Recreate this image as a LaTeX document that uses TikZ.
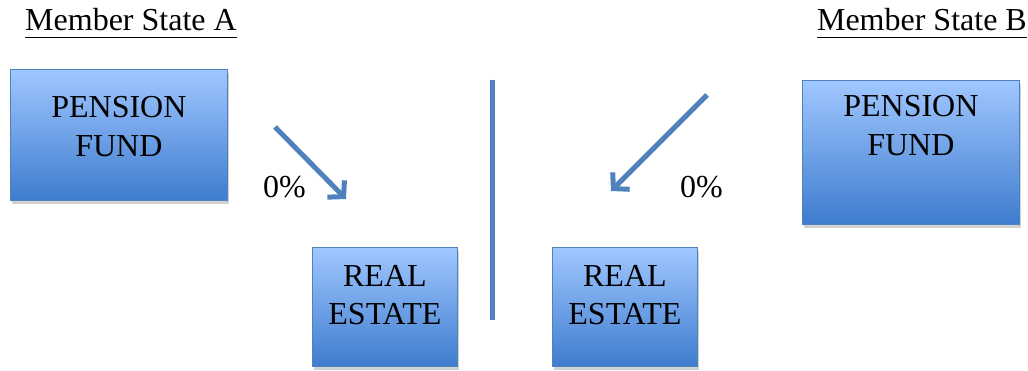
\documentclass[tikz,border=0pt]{standalone}
\usepackage{fontspec}
\setmainfont{Liberation Serif}
\usetikzlibrary{positioning,arrows.meta,shadows}
\definecolor{boxtop}{RGB}{160,199,255}
\definecolor{boxbot}{RGB}{62,124,206}
\definecolor{steel}{RGB}{79,129,189}
\tikzset{>={Straight Barb[length=11pt,width=24pt]}}
\newcommand\kopul[1]{\setbox0\hbox{#1}\rlap{\rule[-7.5pt]{\wd0}{1.8pt}}\box0}

\begin{document}
\begin{tikzpicture}[x=1pt, y=-1pt, font=\fontsize{32}{38.5}\selectfont]
    \tikzset{%
      blok/.style={draw=steel, line width=0.8pt, top color=boxtop, bottom color=boxbot,
        drop shadow={shadow xshift=1.5pt, shadow yshift=-4pt, opacity=.3, fill=black!60},
        anchor=north west, inner sep=0pt},
      boxtext/.style={align=center, inner sep=0pt, anchor=base},
      pijl/.style={->, draw=steel, line width=5pt}
      }
     \useasboundingbox (0,0) rectangle (1028,371);

     \node [anchor=base west, inner sep=0pt] (stateA) at (25,31) {\kopul{Member State A}};
     \node [anchor=base east, inner sep=0pt] (stateB) at (1027,31) {\kopul{Member State B}};

     % base anchor sits on the last line
     \node [blok, minimum width=217pt, minimum height=131pt] (fundA) at (10,69) {};
     \node [boxtext] (fundAtxt) at ([yshift=-87.5pt]fundA.north) {PENSION\\FUND};
     \node [blok, minimum width=217pt, minimum height=144pt] (fundB) at (802,80) {};
     \node [boxtext] (fundBtxt) at ([yshift=-75.5pt]fundB.north) {PENSION\\FUND};

     \node [blok, minimum width=145pt, minimum height=119pt] (realA) at (312,247) {};
     \node [boxtext] (realAtxt) at ([yshift=-77.5pt]realA.north) {REAL\\ESTATE};
     \node [blok, minimum width=145pt, minimum height=119pt] (realB) at (552,247) {};
     \node [boxtext] (realBtxt) at ([yshift=-77.5pt]realB.north) {REAL\\ESTATE};

     % border between the two states
     \coordinate (lineTop) at (492,80);
     \coordinate (lineBot) at (492,320);
     \draw [steel, line width=5pt] (lineTop) -- (lineBot);

     \coordinate (arrAs) at (275,127);
     \coordinate (arrAe) at (346,199);
     \draw [pijl] (arrAs) -- (arrAe);
     \coordinate (arrBs) at (707,95);
     \coordinate (arrBe) at (611,191);
     \draw [pijl] (arrBs) -- (arrBe);

     \node [anchor=base west, inner sep=0pt] (rateA) at (263,198) {0\%};
     \node [anchor=base west, inner sep=0pt] (rateB) at (680,198) {0\%};
  \end{tikzpicture}
\end{document}
